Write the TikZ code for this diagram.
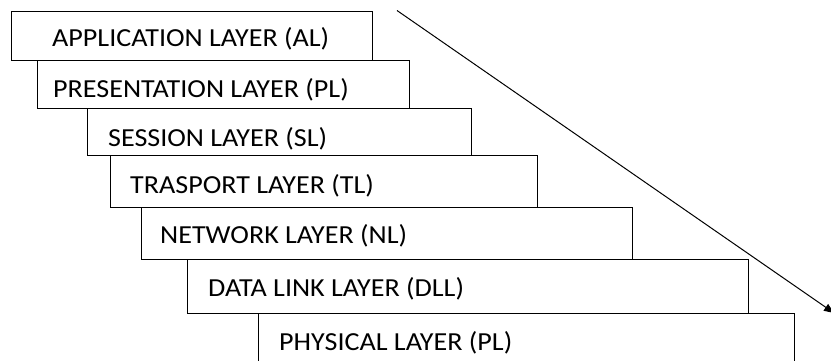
\documentclass[tikz,border=0pt]{standalone}
\usepackage{fontspec}
\setmainfont{Carlito}
\newfontfamily\layerfont[FakeStretch=1.08]{Carlito}
\usetikzlibrary{arrows.meta}
\begin{document}
\begin{tikzpicture}[x=1pt,y=-1pt,
  layerbox/.style={draw=black,line width=1.3pt,fill=white,rectangle,inner sep=0pt,anchor=north west},
  layertext/.style={anchor=base west,inner sep=0pt,font=\layerfont\fontsize{26}{30}\selectfont}]
\useasboundingbox (0,0) rectangle (831,360);
% stacked layer boxes, top to bottom
\node[layerbox,minimum width=361pt,minimum height=49.5pt] (l1) at (11,10.5) {};
\node[layerbox,minimum width=372pt,minimum height=48pt] (l2) at (37,60) {};
\node[layerbox,minimum width=384pt,minimum height=47pt] (l3) at (87,108) {};
\node[layerbox,minimum width=427pt,minimum height=52pt] (l4) at (110,155) {};
\node[layerbox,minimum width=491pt,minimum height=52pt] (l5) at (141,207) {};
\node[layerbox,minimum width=561pt,minimum height=54pt] (l6) at (187,259) {};
\node[layerbox,minimum width=536pt,minimum height=60pt] (l7) at (258,313) {};
% layer names
\node[layertext] (t1) at (52,46) {APPLICATION LAYER (AL)};
\node[layertext] (t2) at (53,97) {PRESENTATION LAYER (PL)};
\node[layertext] (t3) at (108,146) {SESSION LAYER (SL)};
\node[layertext] (t4) at (130,193) {TRASPORT LAYER (TL)};
\node[layertext] (t5) at (160,243) {NETWORK LAYER (NL)};
\node[layertext] (t6) at (208,296) {DATA LINK LAYER (DLL)};
\node[layertext] (t7) at (279,350) {PHYSICAL LAYER (PL)};
% descending arrow
\coordinate (a0) at (397,10.5);
\coordinate (a1) at (834,313);
\draw[line width=1pt,-{Triangle[length=10pt,width=8pt]}] (a0) -- (a1);
\end{tikzpicture}
\end{document}
